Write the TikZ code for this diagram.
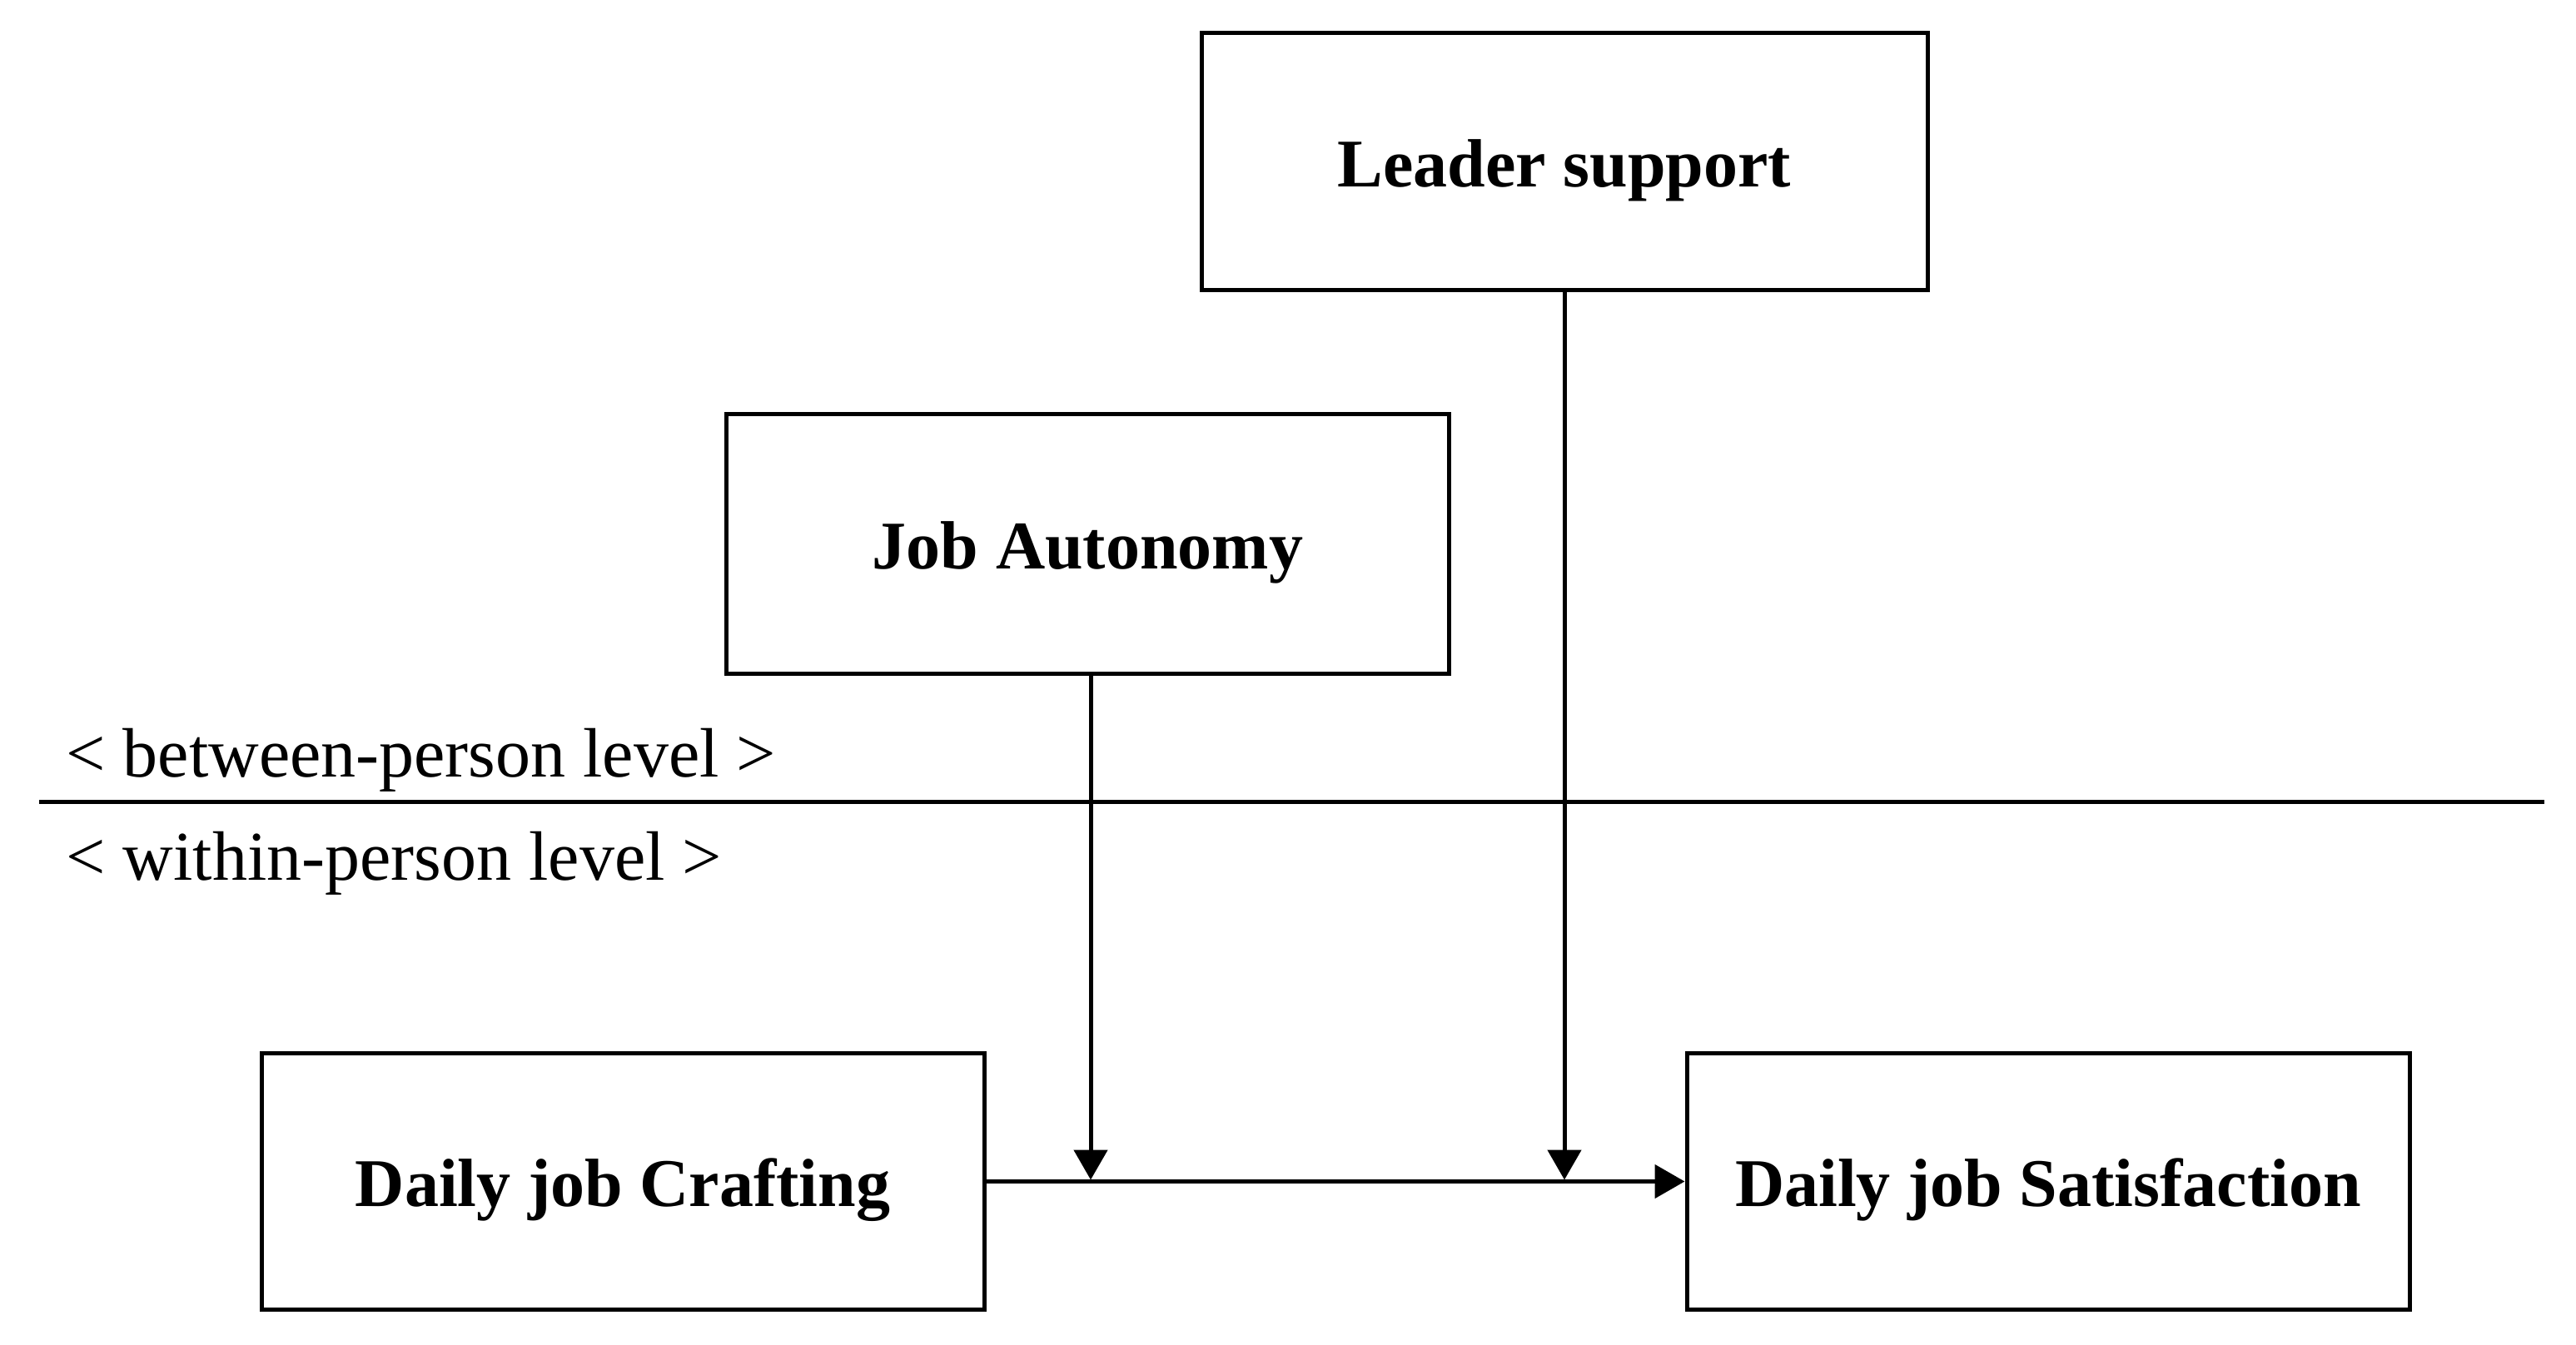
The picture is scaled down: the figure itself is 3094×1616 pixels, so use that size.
\documentclass[tikz,border=0pt]{standalone}
\usepackage{fontspec}
\setmainfont{Liberation Serif}
\usetikzlibrary{arrows.meta}
\begin{document}
\begin{tikzpicture}[x=0.5pt,y=-0.5pt,
  box/.style={draw, line width=2.5pt, minimum width=434pt, minimum height=154pt,
    inner sep=0pt, font=\fontsize{41pt}{49pt}\selectfont\bfseries,
    text height=30pt, text depth=0pt},
  lvl/.style={anchor=base west, inner sep=0pt, font=\fontsize{42pt}{50pt}\selectfont},
  conn/.style={line width=2.5pt},
  arr/.style={conn, -{Triangle[length=18pt,width=20pt]}}]
\useasboundingbox (0,0) rectangle (3094,1616);
\node[box, minimum width=436pt] (L) at (1879,194) {Leader support};
\node[box, minimum height=156pt] (A) at (1306.5,653) {Job Autonomy};
\node[box] (C) at (748,1419.5) {Daily job Crafting};
\node[box] (S) at (2460,1419.5) {Daily job Satisfaction};
\coordinate (dl) at (47,963);
\coordinate (dr) at (3056,963);
\draw[conn] (dl) -- (dr);
\node[lvl] (bl) at (79,933) {< between-person level >};
\node[lvl] (wl) at (79,1057) {< within-person level >};
\draw[arr] (C.east) -- (S.west);
\coordinate (ja) at ([xshift=1.75pt,yshift=1pt]A.south |- C.east);
\coordinate (jl) at ([yshift=1pt]L.south |- C.east);
\draw[arr] ([xshift=1.75pt]A.south) -- (ja);
\draw[arr] (L.south) -- (jl);
\end{tikzpicture}
\end{document}
